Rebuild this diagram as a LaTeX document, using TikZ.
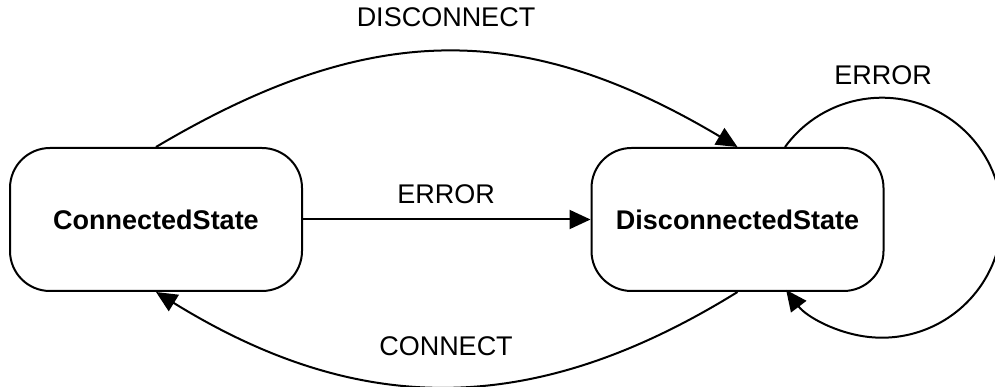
\documentclass[tikz,border=0pt]{standalone}
\usepackage{fontspec}
\setmainfont{Liberation Sans}
\usetikzlibrary{arrows.meta}
\begin{document}
\begin{tikzpicture}[x=1pt,y=1pt,
  statebox/.style={draw=black, line width=2pt, rounded corners=40pt, minimum width=292pt, minimum height=143pt, inner sep=0pt, font=\fontsize{27}{32}\selectfont\bfseries, fill=white},
  edge/.style={draw=black, line width=2pt, -{Triangle[length=21pt,width=19pt]}},
  lbl/.style={inner sep=0pt, anchor=base, font=\fontsize{27}{32}\selectfont}]
\useasboundingbox (0,0) rectangle (995,387);
\fill[white] (0,0) rectangle (995,387);
\node[statebox] (L) at (156,167.5) {ConnectedState};
\node[statebox] (R) at (737.5,167.5) {DisconnectedState};
\draw[edge] (L.north) .. controls (370,367) and (524,367) .. (R.north);
\draw[edge] (L.east) -- (R.west);
\draw[edge] (R.south) .. controls (534,-31) and (360,-31) .. (L.south);
\draw[edge] ([xshift=47.5pt]R.north) arc[start angle=143.9, end angle=-143, radius=120];
\node[lbl] (l1) at (446,360) {DISCONNECT};
\node[lbl] (l2) at (446,183) {ERROR};
\node[lbl] (l3) at (446,31) {CONNECT};
\node[lbl] (l4) at (883,302) {ERROR};
\end{tikzpicture}
\end{document}
